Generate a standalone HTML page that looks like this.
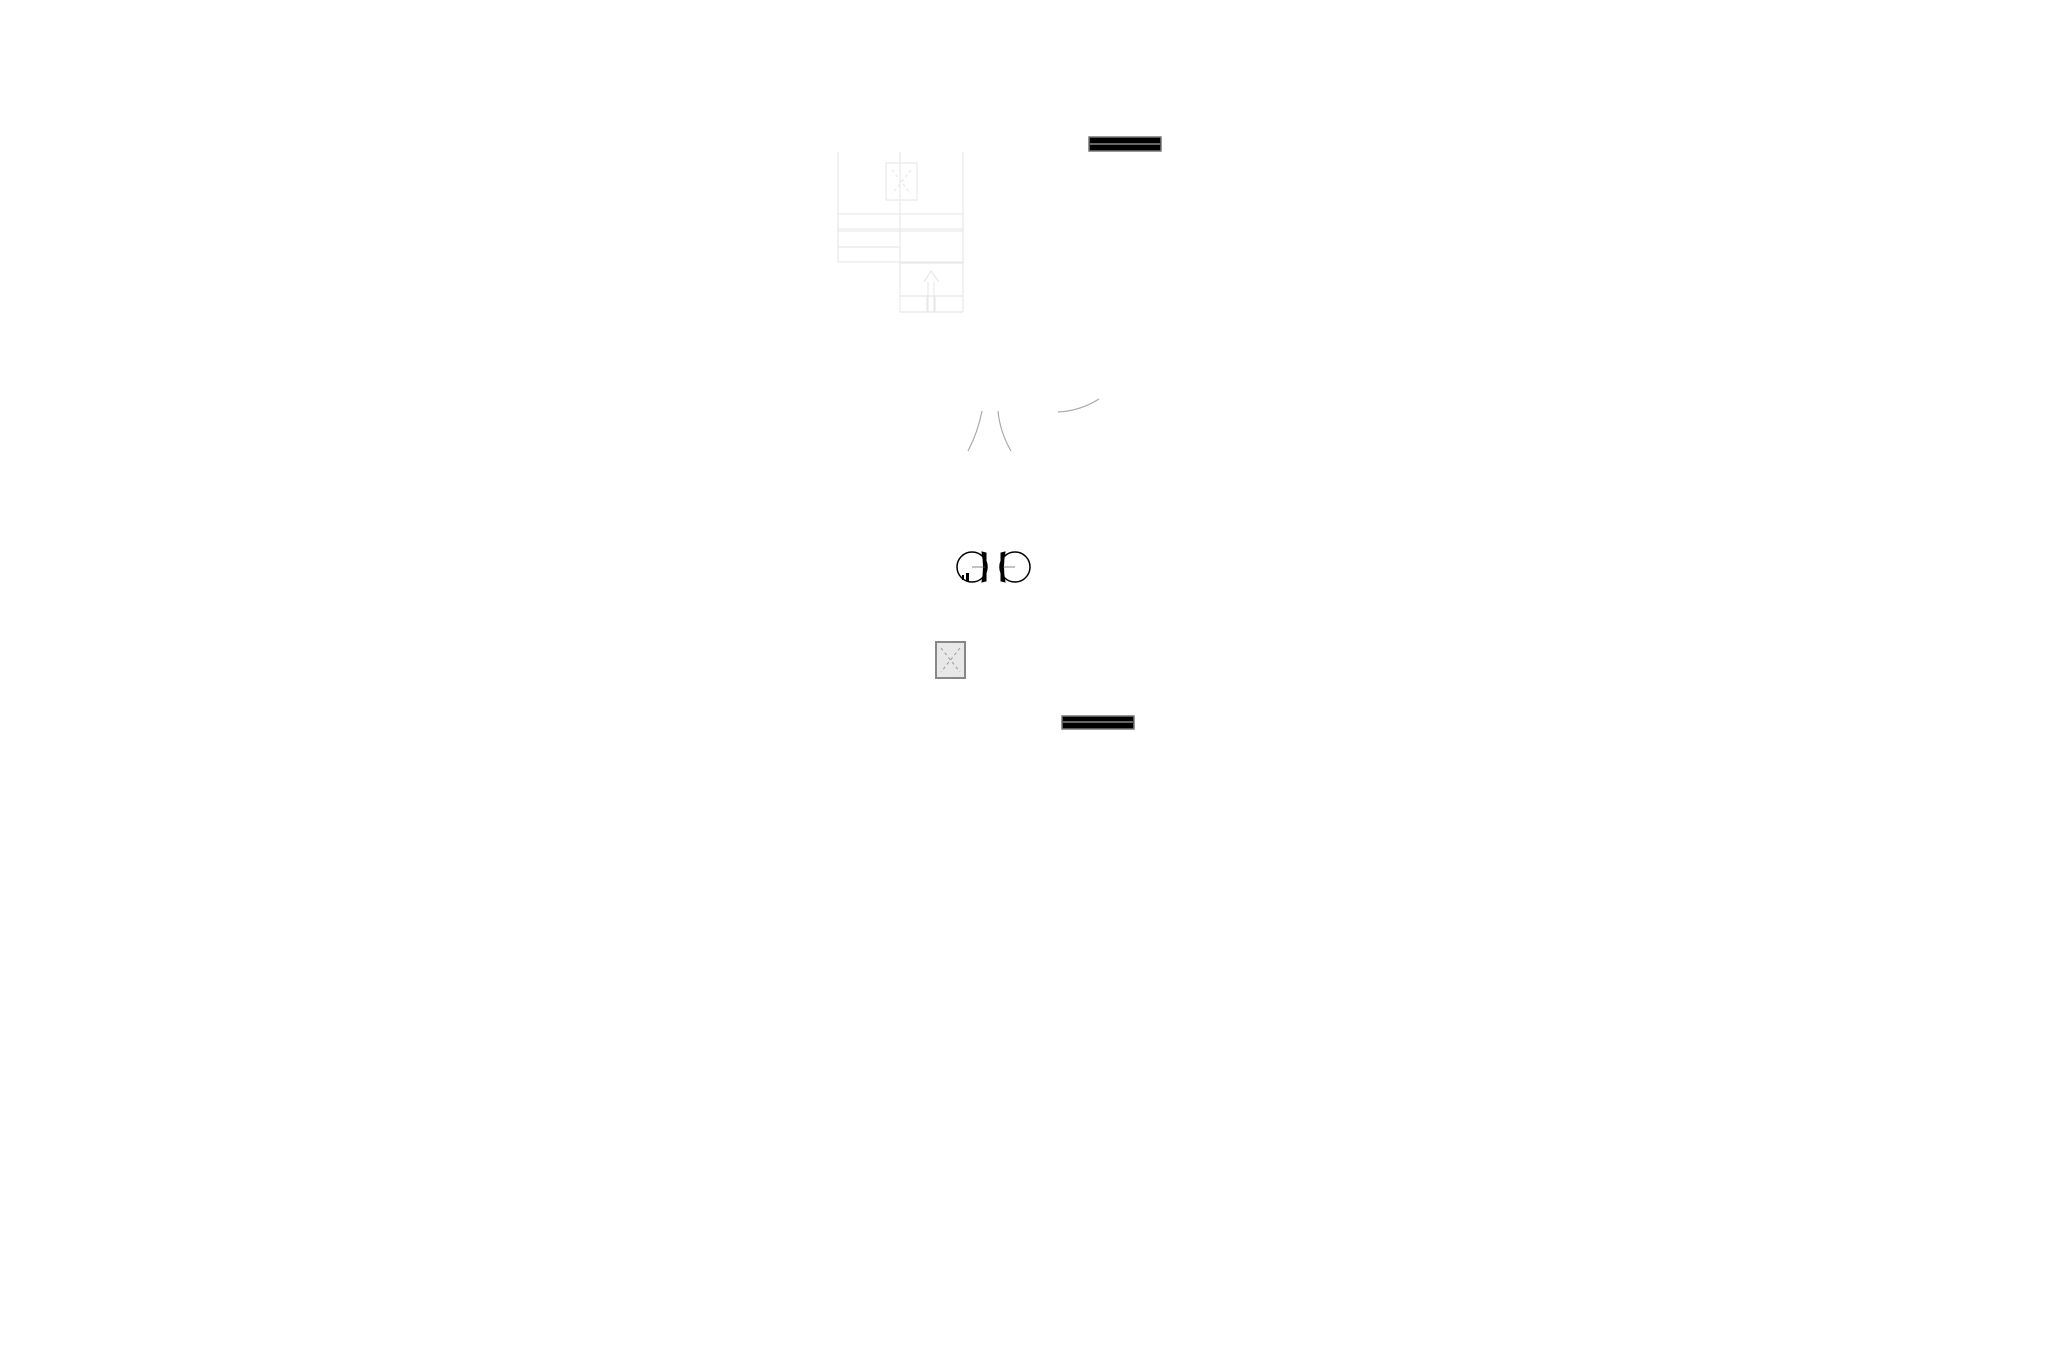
<!DOCTYPE html>
<html><head><meta charset="utf-8"><style>
html,body{margin:0;padding:0;background:#fff;width:2057px;height:1371px;overflow:hidden;font-family:"Liberation Sans",sans-serif}
</style></head><body>
<svg width="2057" height="1371" viewBox="0 0 2057 1371" xmlns="http://www.w3.org/2000/svg">
<rect x="1089" y="137" width="72" height="14" fill="#000" stroke="#777" stroke-width="1.5"/>
<line x1="1090" y1="144" x2="1160" y2="144" stroke="#888" stroke-width="1.5"/>
<g fill="none" stroke="#e8e8e8" stroke-width="1.2">
<line x1="838" y1="152" x2="838" y2="262"/>
<line x1="963" y1="152" x2="963" y2="312"/>
<rect x="886" y="163" width="31" height="37"/>
<line x1="892" y1="170" x2="911" y2="194" stroke-dasharray="3,3"/>
<line x1="911" y1="170" x2="892" y2="194" stroke-dasharray="3,3"/>
<rect x="838" y="214" width="125" height="15"/>
<rect x="838" y="231" width="125" height="31"/>
<line x1="838" y1="247" x2="900" y2="247"/>
<line x1="900" y1="152" x2="900" y2="312"/>
<line x1="900" y1="263" x2="963" y2="263"/>
<line x1="900" y1="296" x2="963" y2="296"/>
<line x1="927" y1="296" x2="927" y2="312"/>
<line x1="935" y1="296" x2="935" y2="312"/>
<line x1="900" y1="312" x2="963" y2="312"/>
<path d="M924 282 L931 271 L939 282 M928 282 V312 M934 282 V312"/>
</g>
<g fill="none" stroke="#aaa" stroke-width="1.2">
<path d="M982 411 Q978 432 968 451"/>
<path d="M998 411 Q1000 432 1011 451"/>
<path d="M1058 412 Q1080 411 1099 399"/>
</g>
<g stroke="#000" fill="none">
<circle cx="972" cy="567" r="15" stroke-width="1.5"/>
<path d="M982 552 L986 553 V581 L982 582 Q985 567 982 552 Z" fill="#000"/>
<circle cx="1015" cy="567" r="15" stroke-width="1.5"/>
<path d="M1005 552 L1001 553 V581 L1005 582 Q1002 567 1005 552 Z" fill="#000"/>
<rect x="962" y="575" width="2" height="5" fill="#000" stroke="none"/>
<rect x="966" y="573" width="3" height="8" fill="#000" stroke="none"/>
<line x1="972" y1="567" x2="985" y2="567" stroke-width="0.8" stroke="#666"/>
<line x1="1003" y1="567" x2="1015" y2="567" stroke-width="0.8" stroke="#666"/>
</g>
<rect x="936" y="642" width="29" height="36" fill="#e8e8e8" stroke="#888" stroke-width="2"/>
<line x1="941" y1="648" x2="960" y2="672" stroke="#999" stroke-dasharray="3,3"/>
<line x1="960" y1="648" x2="941" y2="672" stroke="#999" stroke-dasharray="3,3"/>
<rect x="1062" y="716" width="72" height="13" fill="#000" stroke="#777" stroke-width="1.5"/>
<line x1="1063" y1="722" x2="1133" y2="722" stroke="#888" stroke-width="1.5"/>
</svg>
</body></html>
